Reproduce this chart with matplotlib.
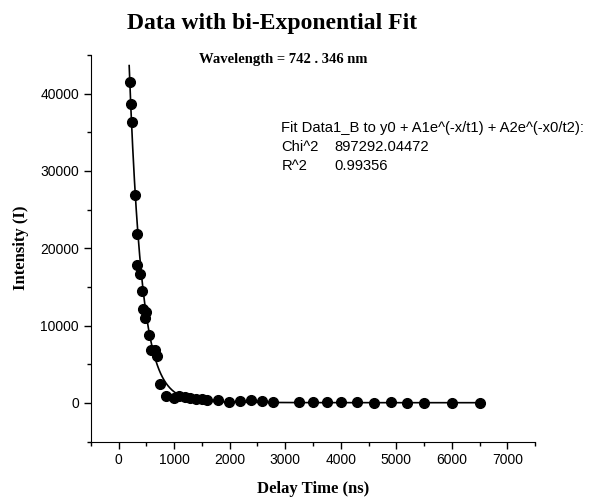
import matplotlib.pyplot as plt
import numpy as np
from matplotlib.ticker import MultipleLocator

delay = [203, 221, 245, 299, 324, 335, 388, 419, 437, 468, 491, 540, 576, 653,
         694, 743, 845, 1000, 1090, 1192, 1288, 1390, 1493, 1588, 1791, 1996,
         2194, 2392, 2590, 2788, 3250, 3500, 3750, 4000, 4300, 4600, 4900,
         5200, 5500, 6000, 6500]
intensity = [41500, 38700, 36300, 26900, 21800, 17800, 16700, 14500, 12200,
             11000, 11700, 8800, 6900, 6900, 6000, 2500, 900, 650, 900, 780,
             690, 560, 480, 350, 390, 170, 220, 390, 260, 170, 170, 110, 60,
             50, 80, 30, 60, 30, 20, 0, 0]

# bi-exponential fit parameters (estimated)
y0 = 20.
A1, t1 = 100000., 225.
A2, t2 = 800., 800.
fit_start, fit_end = 190, 6500

if __name__ == '__main__':
    fig = plt.figure(figsize=[5.9, 5.0], dpi=100)
    ax = fig.add_axes([0.154, 0.117, 0.753, 0.773])

    xf = np.linspace(fit_start, fit_end, 800)
    yf = y0 + A1*np.exp(-xf/t1) + A2*np.exp(-xf/t2)
    ax.plot(xf, yf, '-', color='black', linewidth=1.2)
    ax.plot(delay, intensity, 'o', color='black', markersize=7)

    ax.set_xlim(-500, 7500)
    ax.set_ylim(-5000, 45000)
    ax.xaxis.set_major_locator(MultipleLocator(1000))
    ax.xaxis.set_minor_locator(MultipleLocator(500))
    ax.yaxis.set_major_locator(MultipleLocator(10000))
    ax.yaxis.set_minor_locator(MultipleLocator(5000))
    ax.set_xticks(np.arange(0, 7001, 1000))
    ax.set_yticks(np.arange(0, 40001, 10000))
    ax.spines['top'].set_visible(False)
    ax.spines['right'].set_visible(False)
    ax.tick_params(which='major', direction='out', length=5, width=1,
                   labelsize=10, labelfontfamily='Liberation Sans')
    ax.tick_params(which='minor', direction='out', length=3, width=1)

    ax.set_xlabel('Delay Time (ns)', family='Liberation Serif',
                  fontweight='bold', fontsize=12, labelpad=10)
    ax.set_ylabel('Intensity (I)', family='Liberation Serif',
                  fontweight='bold', fontsize=12, labelpad=8)

    fig.text(0.461, 0.952, 'Data with bi-Exponential Fit', ha='center',
             va='center', family='Liberation Serif', fontweight='bold',
             fontsize=17)
    fig.text(0.48, 0.882, 'Wavelength = 742 . 346 nm', ha='center',
             va='center', family='Liberation Serif', fontweight='bold',
             fontsize=10.5)

    txt = dict(family='Liberation Sans', fontsize=10.6, va='center')
    fig.text(0.477, 1 - 128/500., 'Fit Data1_B to y0 + A1e^(-x/t1) + A2e^(-x0/t2):', **txt)
    fig.text(0.477, 1 - 147/500., 'Chi^2', **txt)
    fig.text(0.566, 1 - 147/500., '897292.04472', **txt)
    fig.text(0.477, 1 - 166/500., 'R^2', **txt)
    fig.text(0.566, 1 - 166/500., '0.99356', **txt)

    plt.savefig('out.png', dpi=100)
